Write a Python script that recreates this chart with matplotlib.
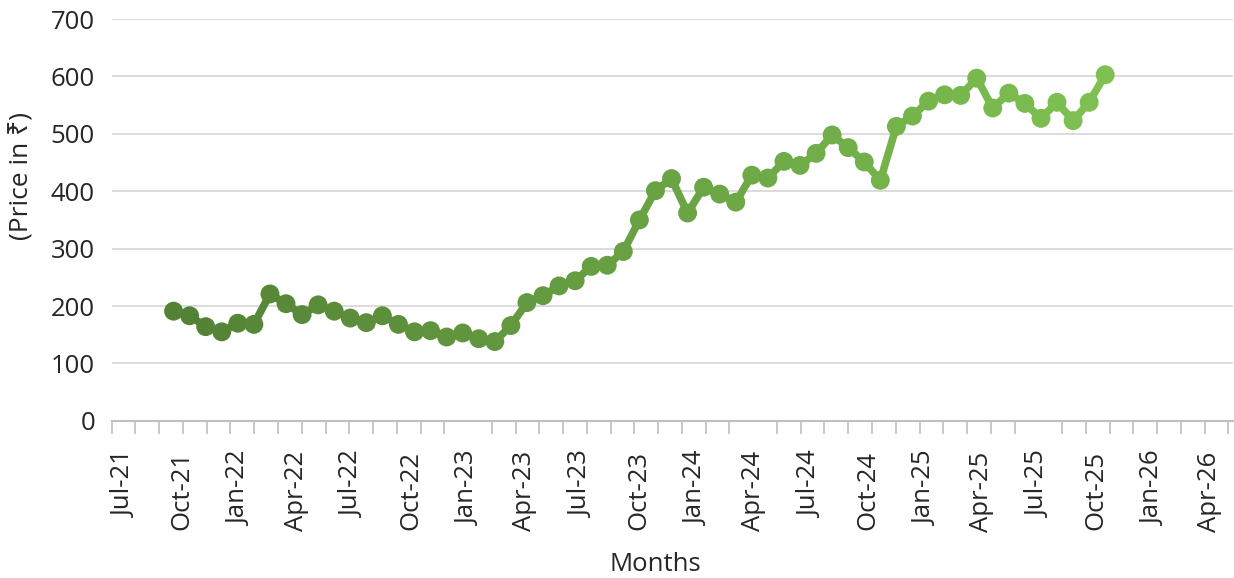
import numpy as np
import pandas as pd
import matplotlib
matplotlib.use('Agg')
import matplotlib.pyplot as plt
import matplotlib.dates as mdates
from matplotlib.collections import LineCollection
from matplotlib.colors import to_rgb

plt.rcParams['font.family'] = ['Open Sans', 'Noto Sans', 'DejaVu Sans']

prices = [191, 183, 164, 155, 170, 168, 221, 204, 185, 202,
          191, 179, 171, 183, 168, 155, 157, 146, 153, 143,
          138, 166, 206, 218, 235, 244, 269, 271, 295, 350,
          401, 422, 362, 407, 395, 381, 428, 423, 452, 445,
          466, 498, 476, 451, 419, 513, 531, 557, 568, 567,
          597, 545, 571, 553, 527, 555, 523, 555, 603]
first_date = '2021-09-17'
last_date = '2025-10-16'
y_ticks = [0, 100, 200, 300, 400, 500, 600, 700]

dates = pd.date_range(first_date, last_date, periods=len(prices))
x = mdates.date2num(dates)
y = np.array(prices, dtype=float)

# colour gradient dark -> light green along the line
c0 = np.array(to_rgb('#538135'))
c1 = np.array(to_rgb('#7EC151'))
t = np.linspace(0, 1, len(x))
cols = c0[None, :] * (1 - t[:, None]) + c1[None, :] * t[:, None]

fig = plt.figure(figsize=(12.34, 5.78), dpi=100)
ax = fig.add_axes([0.0905, 0.272, 0.9085, 0.695])

pts = np.column_stack([x, y]).reshape(-1, 1, 2)
segs = np.concatenate([pts[:-1], pts[1:]], axis=1)
lc = LineCollection(segs, colors=(cols[:-1] + cols[1:]) / 2, linewidths=5.5,
                    capstyle='round', joinstyle='round', zorder=3)
ax.add_collection(lc)
ax.scatter(x, y, s=185, c=cols, edgecolors='none', zorder=4)

ax.set_ylim(0, 700)
ax.set_yticks(y_ticks)
ax.yaxis.grid(True, color='#D9D9D9', linewidth=1.3)
ax.set_axisbelow(True)

xmin = mdates.date2num(pd.Timestamp('2021-06-10'))
xmax = mdates.date2num(pd.Timestamp('2026-05-08'))
ax.set_xlim(xmin, xmax)
ax.xaxis.set_major_locator(mdates.MonthLocator(bymonth=[1, 4, 7, 10]))
ax.xaxis.set_major_formatter(mdates.DateFormatter('%b-%y'))
ax.xaxis.set_minor_locator(matplotlib.ticker.FixedLocator(
    mdates.date2num(pd.date_range('2021-06-10', '2026-05-08', freq='38D'))))

for s in ['top', 'right', 'left']:
    ax.spines[s].set_visible(False)
ax.spines['bottom'].set_color('#BFBFBF')
ax.spines['bottom'].set_linewidth(1.5)

ax.tick_params(axis='y', length=0, pad=12, labelsize=18.5, labelcolor='#262626')
ax.tick_params(axis='x', which='major', length=0, pad=22, labelsize=18.5,
               labelcolor='#262626', labelrotation=90)
ax.tick_params(axis='x', which='minor', length=9, width=1.2, color='#BFBFBF')

fig.text(0.0182, 0.6955, '(Price in ₹)', fontsize=19, color='#262626',
         rotation=90, ha='center', va='center')
fig.text(0.531, 0.0225, 'Months', fontsize=18.5, color='#262626', ha='center', va='center')

fig.savefig('out.png', dpi=100)
